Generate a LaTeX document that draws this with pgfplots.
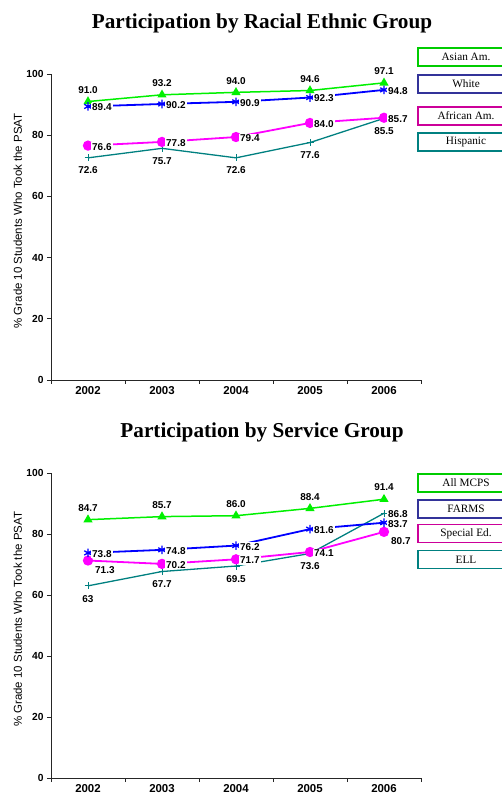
\documentclass[border=0pt]{standalone}
\usepackage{fontspec}
\setmainfont{Liberation Serif}
\setsansfont{Liberation Sans}
\usepackage{pgfplots}
\usepackage{pgfplotstable}
\pgfplotsset{compat=1.18}

\definecolor{lnGreen}{RGB}{0,240,0}
\definecolor{lnBlue}{RGB}{0,0,255}
\definecolor{lnMag}{RGB}{255,0,255}
\definecolor{lnTeal}{RGB}{0,128,128}
\definecolor{bxGreen}{RGB}{0,204,0}
\definecolor{bxBlue}{RGB}{51,51,153}
\definecolor{bxMag}{RGB}{204,0,153}
\definecolor{bxTeal}{RGB}{0,128,128}

% racial / ethnic groups
\pgfplotstableread{
x asian white african hispanic
0 91.0 89.4 76.6 72.6
1 93.2 90.2 77.8 75.7
2 94.0 90.9 79.4 72.6
3 94.6 92.3 84.0 77.6
4 97.1 94.8 85.7 85.5
}\raceData

% service groups
\pgfplotstableread{
x all farms sped ell
0 84.7 73.8 71.3 63
1 85.7 74.8 70.2 67.7
2 86.0 76.2 71.7 69.5
3 88.4 81.6 74.1 73.6
4 91.4 83.7 80.7 86.8
}\serviceData

\pgfplotsset{
  psat/.style={
    scale only axis, width=370bp,
    xmin=-0.5, xmax=4.5, ymin=0, ymax=100,
    axis x line*=bottom, axis y line*=left,
    axis line style={black!85, line width=0.9bp},
    tick align=outside, tick style={black!85, line width=0.9bp},
    major tick length=4bp,
    xtick={-0.5,0.5,...,4.5}, xticklabels={},
    extra x ticks={0,1,2,3,4},
    extra x tick labels={2002,2003,2004,2005,2006},
    extra x tick style={major tick length=0pt, xticklabel style={yshift=-3bp}},
    ytick={0,20,...,100},
    /pgf/number format/assume math mode=true,
    yticklabel style={font=\sffamily\bfseries\fontsize{10.3}{12}\selectfont},
    xticklabel style={font=\sffamily\bfseries\fontsize{11.5}{13}\selectfont},
    ylabel={\% Grade 10 Students Who Took the PSAT},
    ylabel style={font=\sffamily\fontsize{11.5}{13}\selectfont,
      at={(axis description cs:-0.09,0.52)}, anchor=center},
    clip=false,
  },
  s1/.style={lnGreen, line width=1.5bp, mark=triangle*, mark size=3.8bp, mark options={solid}},
  s2/.style={lnBlue, line width=1.8bp, mark=asterisk, mark size=4.3bp, mark options={line width=1.3bp}},
  s3/.style={lnMag, line width=1.8bp, mark=*, mark size=4.2bp},
  s4/.style={lnTeal, line width=1.3bp, mark=+, mark size=3.5bp, mark options={line width=1bp}},
  lbl/.style={draw=none, mark=none, nodes near coords, point meta=explicit symbolic,
    every node near coord/.append style={fill=white, inner sep=1bp, text=black,
      font=\sffamily\bfseries\fontsize{10}{12}\selectfont, #1}},
  lblS/.style={lbl={anchor=south, yshift=7bp}},
  lblE/.style={lbl={anchor=west, xshift=3bp, yshift=-1bp}},
  lblN/.style={lbl={anchor=north, yshift=-8bp}},
  lblSE/.style={lbl={anchor=north west, xshift=6bp, yshift=-4.5bp}},
}
\tikzset{
  box/.style={line width=1.6bp, minimum width=96bp, minimum height=18bp, inner sep=0pt,
    font=\rmfamily\fontsize{11.3}{13}\selectfont},
}

\begin{document}
\begin{tikzpicture}
\useasboundingbox (0,0) rectangle (502bp,800bp);

\node[anchor=base, font=\rmfamily\bfseries\fontsize{21.3}{25}\selectfont] at (262bp,771.7bp) {Participation by Racial Ethnic Group};

\begin{axis}[psat, height=306bp, at={(51bp,420bp)}, anchor=south west]
\addplot[s4] table[x=x, y=hispanic] {\raceData};
\addplot[s3] table[x=x, y=african] {\raceData};
\addplot[s1] table[x=x, y=asian] {\raceData};
\addplot[s2] table[x=x, y=white] {\raceData};
% data labels
\addplot[lblS] table[x=x, y=asian, meta=asian] {\raceData};
\addplot[lblE] table[x=x, y=white, meta=white] {\raceData};
\addplot[lblE] table[x=x, y=african, meta=african] {\raceData};
\addplot[lblN] table[x=x, y=hispanic, meta=hispanic] {\raceData};
\end{axis}

\node[box, draw=bxGreen] at (466bp,743bp) {Asian Am.};
\node[box, draw=bxBlue] at (466bp,716bp) {White};
\node[box, draw=bxMag] at (466bp,684bp) {African Am.};
\node[box, draw=bxTeal] at (466bp,658bp) {Hispanic};

\node[anchor=base, font=\rmfamily\bfseries\fontsize{21.3}{25}\selectfont] at (262bp,362.7bp) {Participation by Service Group};

\begin{axis}[psat, height=305bp, at={(51bp,22bp)}, anchor=south west]
\addplot[s4] table[x=x, y=ell] {\serviceData};
\addplot[s3] table[x=x, y=sped] {\serviceData};
\addplot[s1] table[x=x, y=all] {\serviceData};
\addplot[s2] table[x=x, y=farms] {\serviceData};
% data labels
\addplot[lblS] table[x=x, y=all, meta=all] {\serviceData};
\addplot[lblE] table[x=x, y=farms, meta=farms] {\serviceData};
\addplot[lblSE] coordinates {(0,71.3) [71.3] (4,80.7) [80.7]};
\addplot[lblE] coordinates {(1,70.2) [70.2] (2,71.7) [71.7] (3,74.1) [74.1]};
\addplot[lblN] coordinates {(0,63) [63] (1,67.7) [67.7] (2,69.5) [69.5] (3,73.6) [73.6]};
\addplot[lblE] coordinates {(4,86.8) [86.8]};
\end{axis}

\node[box, draw=bxGreen] at (466bp,317bp) {All MCPS};
\node[box, draw=bxBlue] at (466bp,291bp) {FARMS};
\node[box, draw=bxMag] at (466bp,266.5bp) {Special Ed.};
\node[box, draw=bxTeal] at (466bp,240.5bp) {ELL};
\end{tikzpicture}
\end{document}
